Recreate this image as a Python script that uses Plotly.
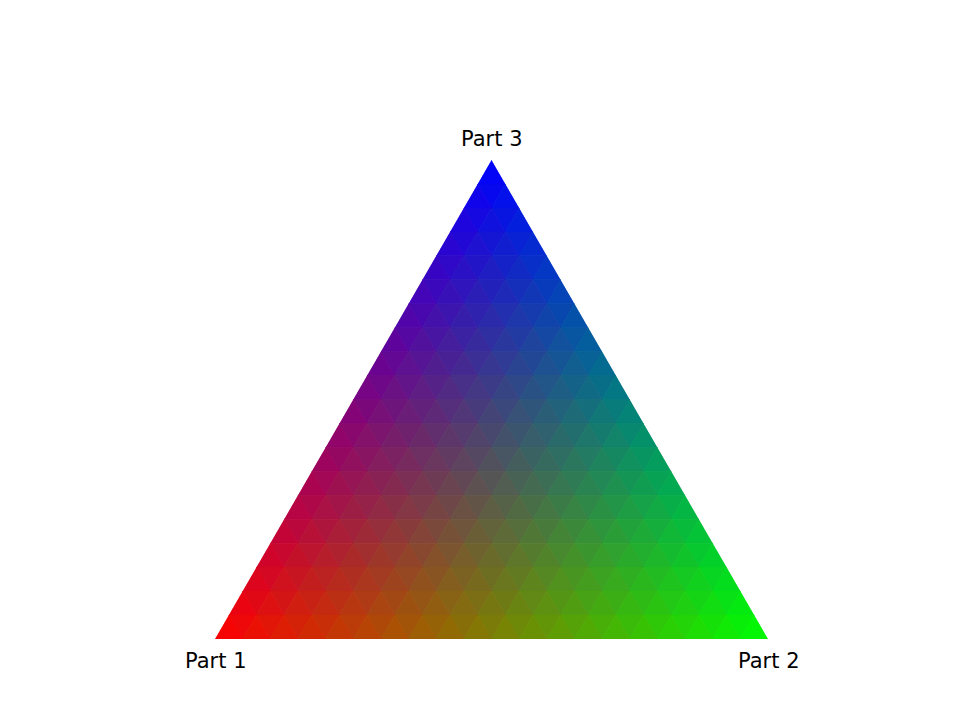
"""RGB ternary heatmap: each small triangle coloured by its mix of Part 1 / Part 2 / Part 3"""
import plotly.graph_objects as go

SCALE = 20
CORNER_LABELS = ["Part 1", "Part 2", "Part 3"]
# colour of a pure component (red / green / blue)
CORNER_RGB = [(255, 0, 0), (0, 255, 0), (0, 0, 255)]

FONT = dict(family="DejaVu Sans, sans-serif", size=21, color="#000000")

W, H = 960, 720
DOM_X = [207 / W, 760 / W]
DOM_Y = [88 / H, 569 / H]


def mix_color(p1, p2, p3):
    chan = [0.0, 0.0, 0.0]
    for w, rgb in zip((p1, p2, p3), CORNER_RGB):
        for n in range(3):
            chan[n] += w * rgb[n]
    return "rgb({:.0f},{:.0f},{:.0f})".format(*chan)


def cell(pts):
    # pts: list of (part1, part2) grid steps; part3 is the rest
    p1 = [p[0] / SCALE for p in pts]
    p2 = [p[1] / SCALE for p in pts]
    p3 = [1 - a - b for a, b in zip(p1, p2)]
    color = mix_color(sum(p1) / 3, sum(p2) / 3, sum(p3) / 3)
    return go.Scatterternary(
        a=p3 + [p3[0]],
        b=p1 + [p1[0]],
        c=p2 + [p2[0]],
        mode="lines",
        fill="toself",
        fillcolor=color,
        line=dict(color=color, width=0.8),
        hoverinfo="skip",
        showlegend=False,
    )


traces = []
for i in range(SCALE):
    for j in range(SCALE - i):
        traces.append(cell([(i, j), (i + 1, j), (i, j + 1)]))
        if i + j <= SCALE - 2:
            traces.append(cell([(i + 1, j), (i + 1, j + 1), (i, j + 1)]))

fig = go.Figure(traces)

# corner labels as annotations just outside each vertex
left_x, right_x = 208 / W, 761 / W
mid_x = (left_x + right_x) / 2
fig.add_annotation(x=left_x, y=(720 - 653) / H, text=CORNER_LABELS[0])
fig.add_annotation(x=right_x, y=(720 - 653) / H, text=CORNER_LABELS[1])
fig.add_annotation(x=mid_x, y=(720 - 131) / H, text=CORNER_LABELS[2])
fig.update_annotations(xref="paper", yref="paper", showarrow=False,
                       xanchor="center", yanchor="middle", font=FONT)

axis = dict(showticklabels=False, showgrid=False, showline=False, ticks="", title=dict(text=""))
fig.update_layout(
    width=W,
    height=H,
    paper_bgcolor="white",
    margin=dict(l=0, r=0, t=0, b=0),
    font=FONT,
    ternary=dict(
        sum=1,
        bgcolor="white",
        domain=dict(x=DOM_X, y=DOM_Y),
        aaxis=axis,
        baxis=axis,
        caxis=axis,
    ),
)

fig.write_html("out.html")
